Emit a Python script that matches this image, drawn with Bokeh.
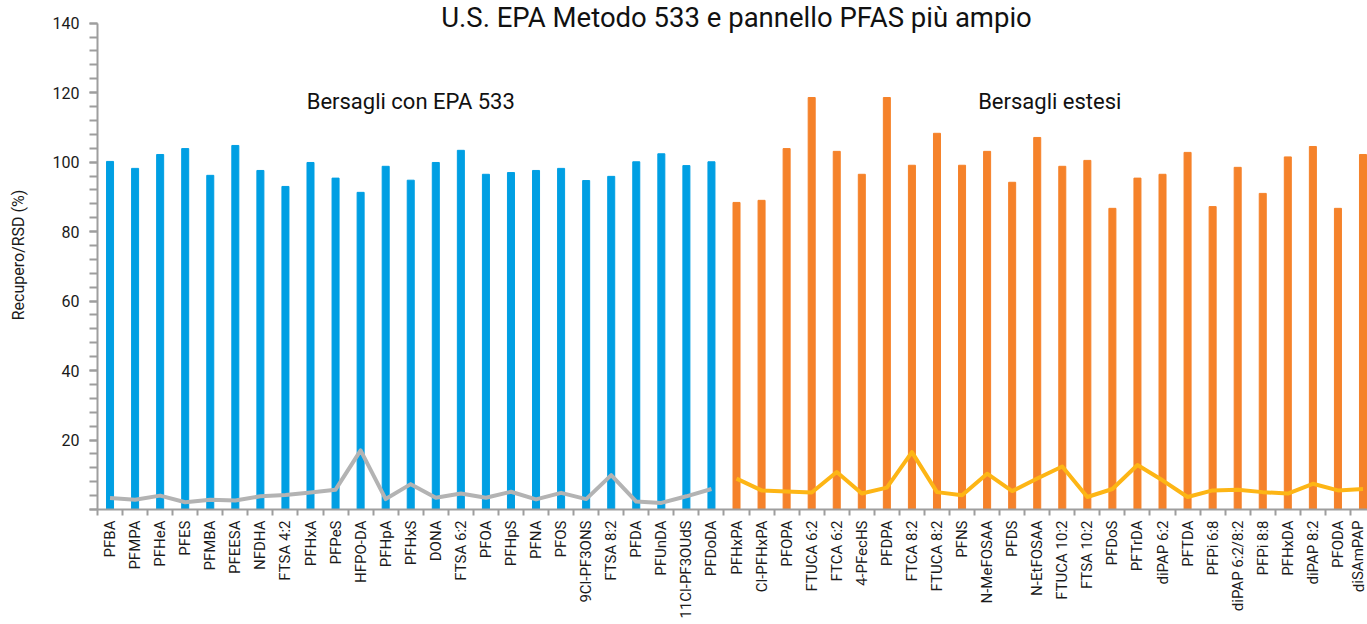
from bokeh.plotting import figure
from bokeh.models import FixedTicker, SingleIntervalTicker, Range1d, Label, ColumnDataSource
from bokeh.embed import file_html
from bokeh.resources import INLINE
from bokeh.core.properties import value

title_text = "U.S. EPA Metodo 533 e pannello PFAS più ampio"
group1_title = "Bersagli con EPA 533"
group2_title = "Bersagli estesi"
y_label = "Recupero/RSD (%)"

epa_names = ["PFBA", "PFMPA", "PFHeA", "PFES", "PFMBA", "PFEESA", "NFDHA", "FTSA 4:2",
             "PFHxA", "PFPeS", "HFPO-DA", "PFHpA", "PFHxS", "DONA", "FTSA 6:2", "PFOA",
             "PFHpS", "PFNA", "PFOS", "9Cl-PF3ONS", "FTSA 8:2", "PFDA", "PFUnDA",
             "11Cl-PF3OUdS", "PFDoDA"]
epa_recovery = [100.2, 98.2, 102.2, 103.9, 96.2, 104.8, 97.6, 93.0, 99.9, 95.4, 91.3, 98.8,
                94.8, 99.9, 103.4, 96.5, 97.0, 97.6, 98.2, 94.7, 95.9, 100.1, 102.4, 99.0,
                100.1]
epa_rsd = [3.3, 2.8, 4.0, 2.1, 2.8, 2.6, 3.8, 4.2, 4.9, 5.7, 17.0, 3.0, 7.3, 3.4, 4.6, 3.4,
           5.1, 2.9, 4.8, 3.0, 9.9, 2.3, 1.9, 3.8, 5.9]

ext_names = ["PFHxPA", "Cl-PFHxPA", "PFOPA", "FTUCA 6:2", "FTCA 6:2", "4-PFecHS", "PFDPA",
             "FTCA 8:2", "FTUCA 8:2", "PFNS", "N-MeFOSAA", "PFDS", "N-EtFOSAA", "FTUCA 10:2",
             "FTSA 10:2", "PFDoS", "PFTrDA", "diPAP 6:2", "PFTDA", "PFPi 6:8",
             "diPAP 6:2/8:2", "PFPi 8:8", "PFHxDA", "diPAP 8:2", "PFODA", "diSAmPAP"]
ext_recovery = [88.4, 89.0, 103.9, 118.6, 103.1, 96.5, 118.6, 99.1, 108.3, 99.1, 103.1, 94.2,
                107.1, 98.8, 100.5, 86.7, 95.4, 96.5, 102.8, 87.2, 98.5, 91.0, 101.5, 104.5,
                86.7, 102.2]
ext_rsd = [8.9, 5.5, 5.2, 4.9, 10.8, 4.6, 6.3, 16.5, 5.0, 4.1, 10.3, 5.3, 8.9, 12.4, 3.6, 5.9,
           12.8, 8.4, 3.6, 5.5, 5.7, 5.0, 4.6, 7.4, 5.5, 5.9]

BLUE = "#009FE3"
ORANGE = "#F5822A"
GRAY_LINE = "#B3B3B3"
YELLOW_LINE = "#FDB515"
AXIS = "#9E9E9E"
FONT = "Roboto"

n1 = len(epa_names)
n2 = len(ext_names)
x1 = list(range(n1))
x2 = list(range(n1, n1 + n2))
all_names = epa_names + ext_names

src1 = ColumnDataSource(dict(x=x1, rec=epa_recovery, rsd=epa_rsd))
src2 = ColumnDataSource(dict(x=x2, rec=ext_recovery, rsd=ext_rsd))

p = figure(width=1367, height=624, output_backend="svg", toolbar_location=None, tools="",
           x_range=Range1d(-0.5, 50.18), y_range=Range1d(0, 146.53),
           min_border_left=97, min_border_right=0, min_border_top=0, min_border_bottom=115)
p.outline_line_color = None
p.xgrid.visible = False
p.ygrid.visible = False

p.vbar(x="x", top="rec", width=0.28, bottom=0, source=src1, color=BLUE)
p.vbar(x="x", top="rec", width=0.28, bottom=0, source=src2, color=ORANGE)
p.line(x="x", y="rsd", source=src1, line_color=GRAY_LINE, line_width=4, line_join="round")
p.line(x="x", y="rsd", source=src2, line_color=YELLOW_LINE, line_width=4, line_join="round")

# x axis
xa = p.xaxis[0]
xa.ticker = FixedTicker(ticks=x1 + x2, minor_ticks=[i - 0.5 for i in range(n1 + n2 + 1)])
xa.major_label_overrides = {i: name for i, name in enumerate(all_names)}
xa.major_label_orientation = 1.5708
xa.major_tick_out = 0
xa.major_tick_in = 0
xa.minor_tick_out = 6
xa.minor_tick_in = 0
xa.minor_tick_line_color = AXIS
xa.minor_tick_line_width = 2
xa.axis_line_color = AXIS
xa.axis_line_width = 2
xa.major_label_standoff = 5
xa.major_label_text_font = FONT
xa.major_label_text_font_size = "15px"
xa.major_label_text_color = "#1a1a1a"

# y axis
ya = p.yaxis[0]
ya.bounds = (0, 140)
ya.ticker = SingleIntervalTicker(interval=20, num_minor_ticks=5)
ya.major_label_overrides = {0: ""}
ya.major_tick_out = 8
ya.major_tick_in = 0
ya.minor_tick_out = 8
ya.minor_tick_in = 0
ya.major_tick_line_color = AXIS
ya.minor_tick_line_color = AXIS
ya.major_tick_line_width = 2
ya.minor_tick_line_width = 2
ya.axis_line_color = AXIS
ya.axis_line_width = 2
ya.major_label_standoff = 10
ya.major_label_text_font = FONT
ya.major_label_text_font_size = "16px"
ya.major_label_text_color = "#1a1a1a"
ya.axis_label = y_label
ya.axis_label_text_font = FONT
ya.axis_label_text_font_size = "16px"
ya.axis_label_text_font_style = "normal"
ya.axis_label_text_color = "#1a1a1a"
ya.axis_label_standoff = 22

center_all = (n1 + n2 - 1) / 2
p.add_layout(Label(x=center_all, y=141.7, text=title_text, text_align="center",
                   text_baseline="alphabetic", text_font=FONT, text_font_size="27.5px",
                   text_color="#111111"))
p.add_layout(Label(x=(n1 - 1) / 2, y=117.5, text=group1_title, text_align="center",
                   text_baseline="alphabetic", text_font=FONT, text_font_size="22px",
                   text_color="#111111"))
p.add_layout(Label(x=n1 - 0.5 + n2 / 2, y=117.5, text=group2_title, text_align="center",
                   text_baseline="alphabetic", text_font=FONT, text_font_size="22px",
                   text_color="#111111"))

open("out.html", "w").write(file_html(p, INLINE))
